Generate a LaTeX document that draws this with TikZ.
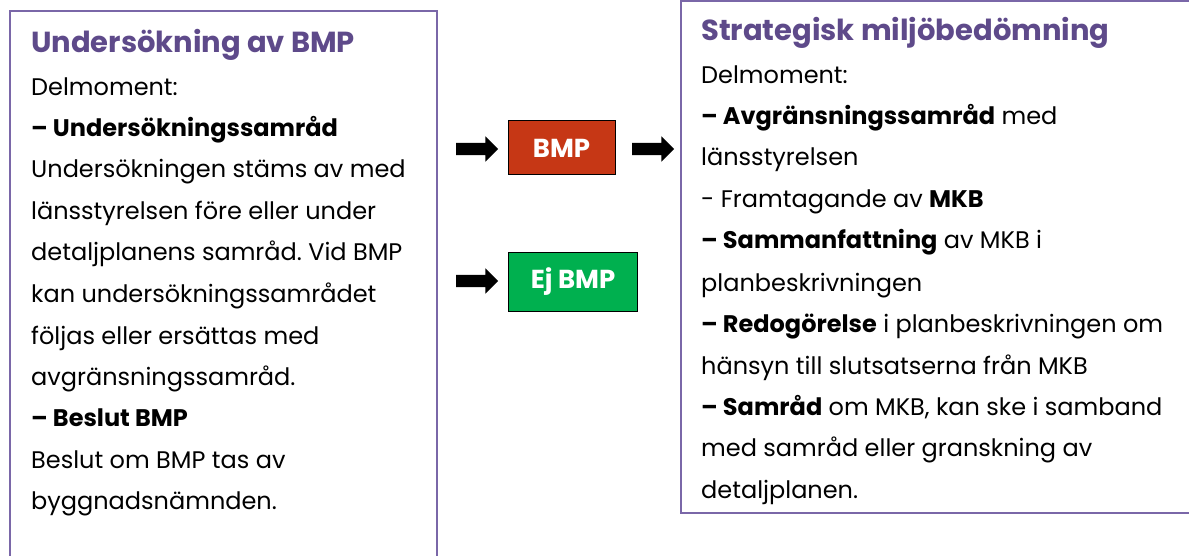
\documentclass[tikz,border=0pt]{standalone}
\usepackage{fontspec}
\setmainfont{Poppins}
\usetikzlibrary{shapes.arrows}
\frenchspacing
\definecolor{purp}{HTML}{5E4A8A}
\definecolor{frame}{HTML}{7A67A8}
\definecolor{bmpred}{HTML}{C63715}
\definecolor{bmpgreen}{HTML}{00B04F}
\tikzset{
  body/.style={anchor=base west,inner sep=0pt,font=\fontsize{24}{24}\selectfont,text=black},
  ttl/.style={anchor=base west,inner sep=0pt,font=\fontsize{29}{29}\selectfont\bfseries,text=purp},
  blk/.style={single arrow,fill=black,draw=none,minimum height=42pt,inner xsep=0pt,inner ysep=6pt,single arrow head extend=6.5pt,single arrow tip angle=90},
  tag/.style={draw=black,line width=1pt,text=white,font=\fontsize{26}{26}\selectfont\bfseries,inner sep=0pt},
}
\begin{document}
\begin{tikzpicture}[x=1pt,y=-1pt]
\useasboundingbox (0,0) rectangle (1189,556);
% frames
\draw[frame,line width=2pt] (10,560) -- (10,11) -- (437,11) -- (437,560);
\draw[frame,line width=2pt] (1195,1) -- (681,1) -- (681,513) -- (1195,513);
% left text
\node[ttl] (lt) at (31,53) {Undersökning av BMP};
\node[body] (l1) at (31,96) {Delmoment:};
\node[body] (l2) at (31,137) {\textbf{– Undersökningssamråd}};
\node[body] (l3) at (31,178) {Undersökningen stäms av med};
\node[body] (l4) at (31,220) {länsstyrelsen före eller under};
\node[body] (l5) at (31,261) {detaljplanens samråd. Vid BMP};
\node[body] (l6) at (31,302) {kan undersökningssamrådet};
\node[body] (l7) at (31,344) {följas eller ersättas med};
\node[body] (l8) at (31,385) {avgränsningssamråd.};
\node[body] (l9) at (31,426) {\textbf{– Beslut BMP}};
\node[body] (l10) at (31,468) {Beslut om BMP tas av};
\node[body] (l11) at (31,509) {byggnadsnämnden.};
% right text
\node[ttl] (rt) at (701,41) {Strategisk miljöbedömning};
\node[body] (r1) at (701,84) {Delmoment:};
\node[body] (r2) at (701,125) {\textbf{– Avgränsningssamråd} med};
\node[body] (r3) at (701,166) {länsstyrelsen};
\node[body] (r4) at (701,208) {- Framtagande av \textbf{MKB}};
\node[body] (r5) at (701,249) {\textbf{– Sammanfattning} av MKB i};
\node[body] (r6) at (701,291) {planbeskrivningen};
\node[body] (r7) at (701,332) {\textbf{– Redogörelse} i planbeskrivningen om};
\node[body] (r8) at (701,374) {hänsyn till slutsatserna från MKB};
\node[body] (r9) at (701,415) {\textbf{– Samråd} om MKB, kan ske i samband};
\node[body] (r10) at (701,456) {med samråd eller granskning av};
\node[body] (r11) at (701,498) {detaljplanen.};
% tags
\node[tag,fill=bmpred,minimum width=107pt,minimum height=54pt] (bmp) at (561.5,148) {BMP};
\node[tag,fill=bmpgreen,minimum width=129pt,minimum height=59pt] (ej) at (573,282) {Ej BMP};
% block arrows
\node[blk] (a1) at (474,149) {};
\node[blk] (a2) at (650,149) {};
\node[blk] (a3) at (474,281) {};
\end{tikzpicture}
\end{document}
